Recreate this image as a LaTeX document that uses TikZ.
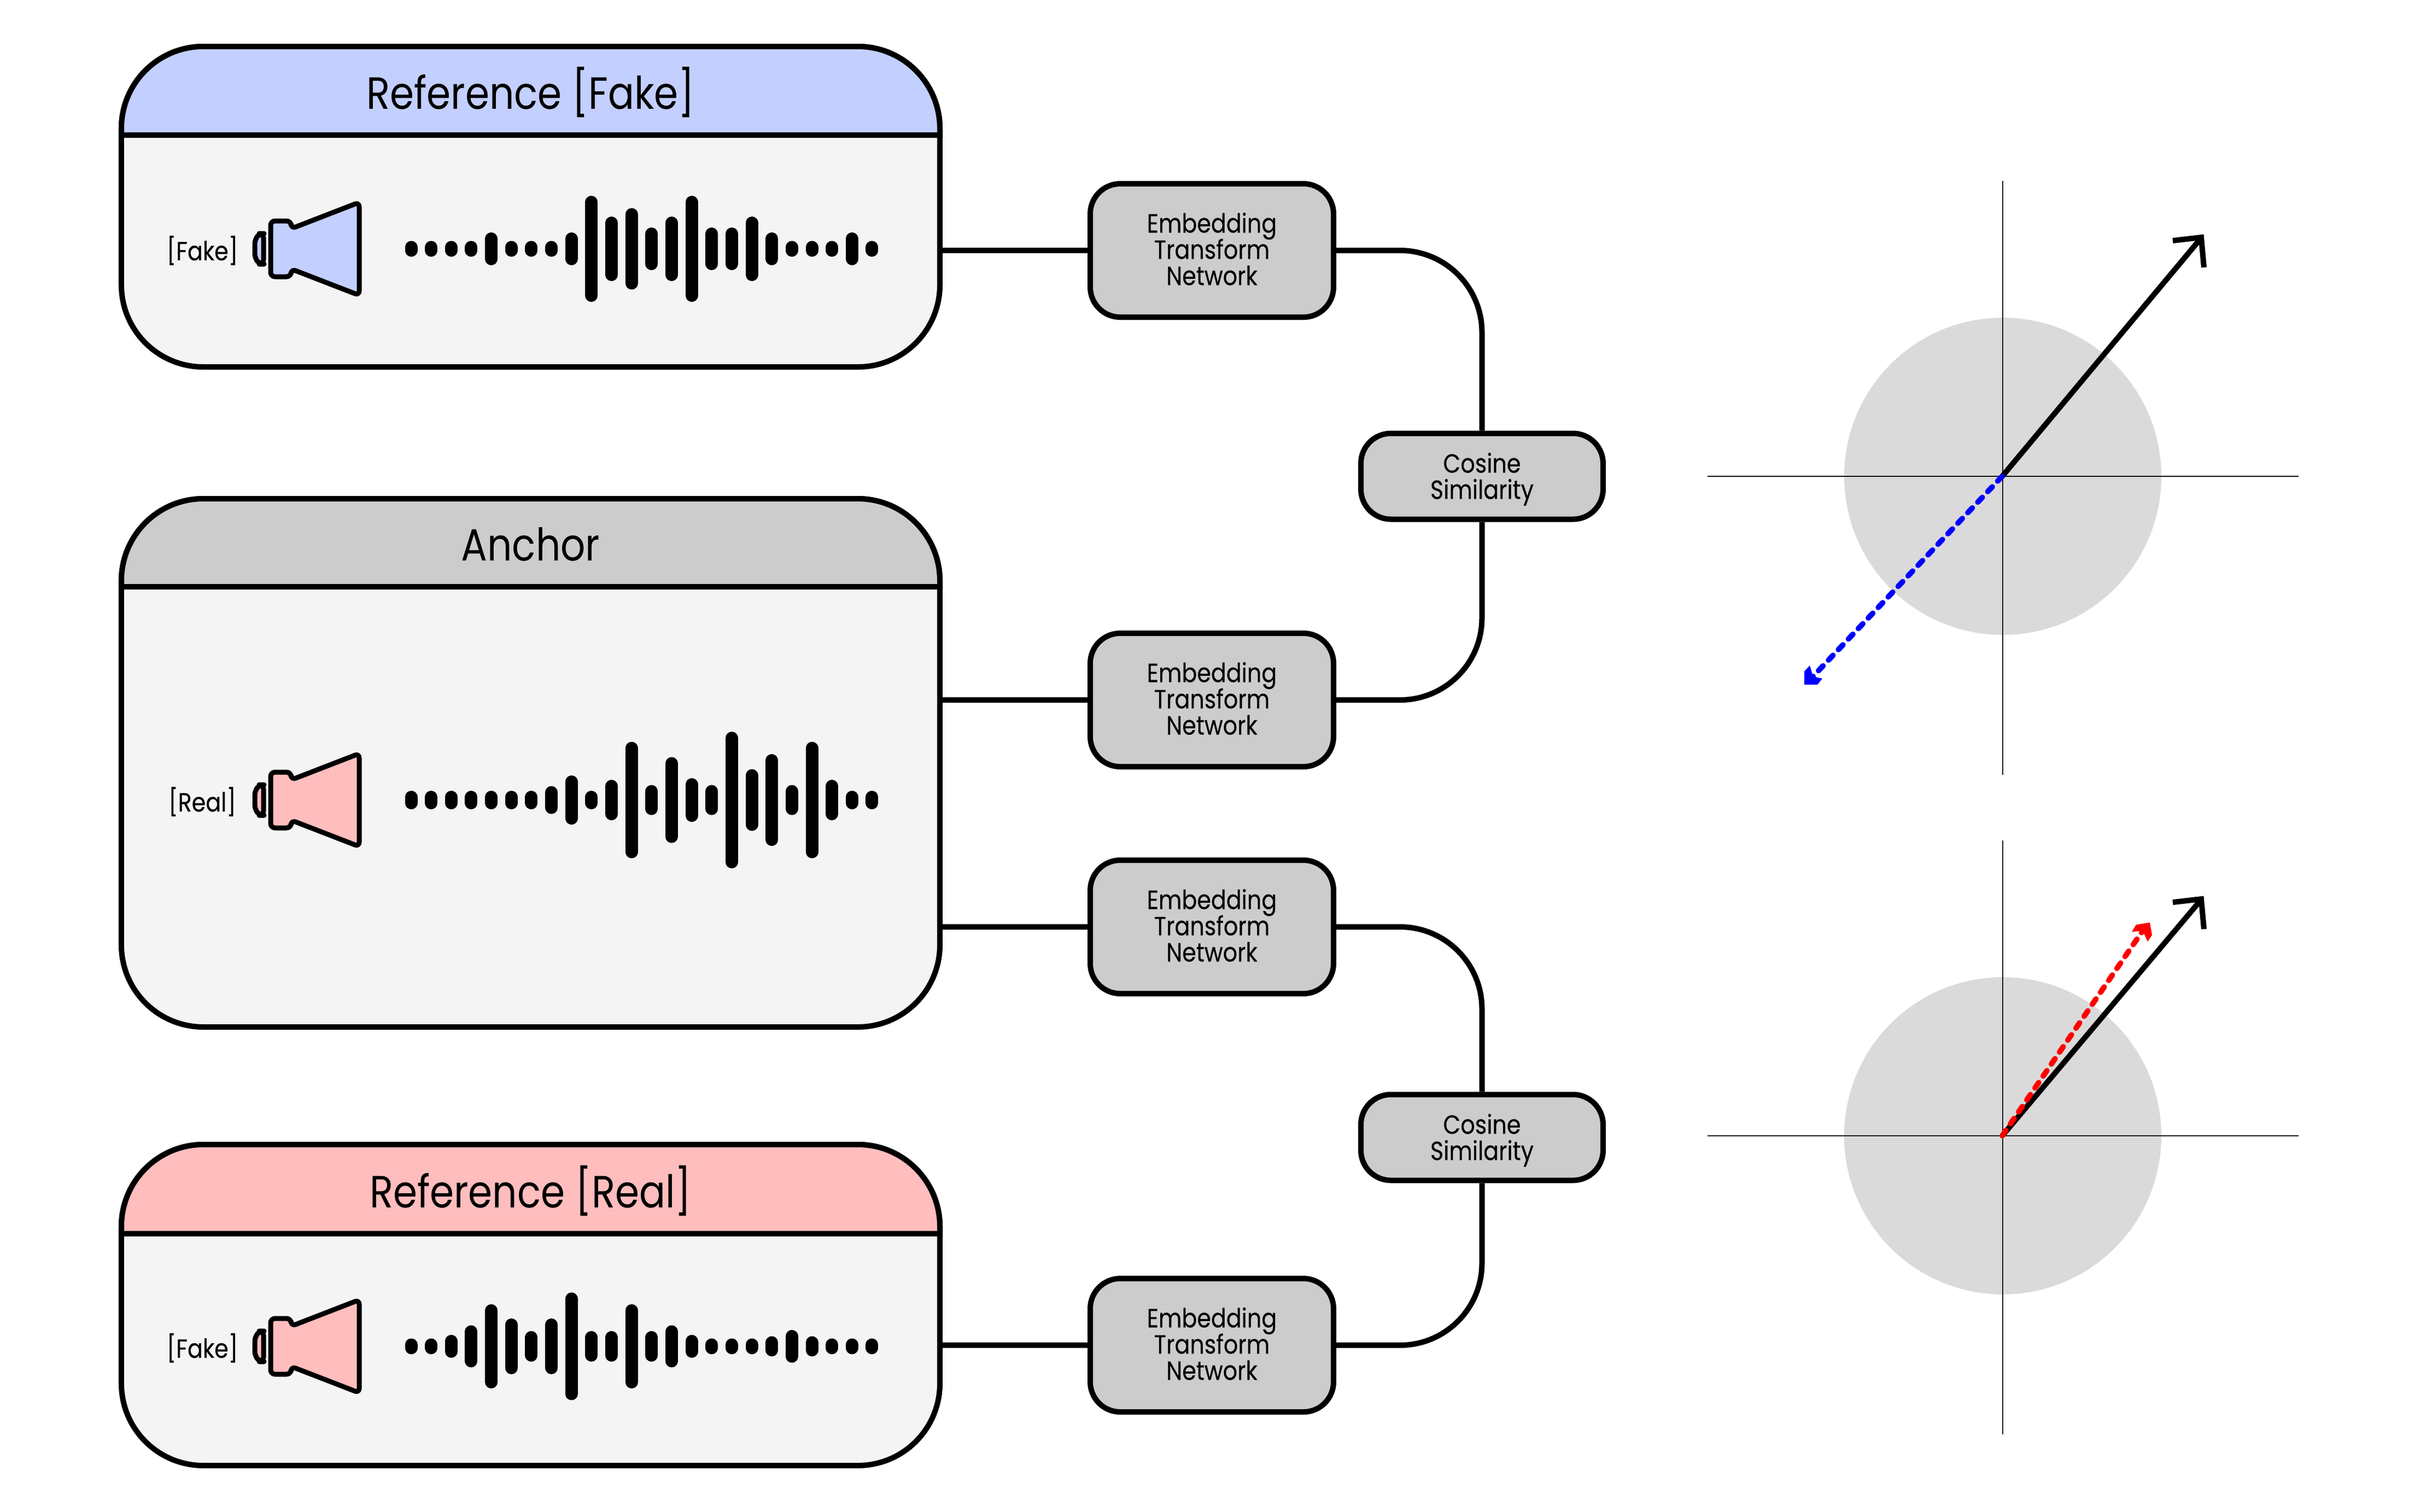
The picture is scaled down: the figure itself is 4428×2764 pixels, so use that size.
\documentclass[tikz,border=0pt]{standalone}
\usepackage{fontspec}
\setmainfont[FakeStretch=0.86]{Poppins}
\newfontfamily\boxfont[FakeStretch=0.86,FakeBold=0.25]{Poppins}
\usetikzlibrary{positioning}

\definecolor{headblue}{HTML}{C3CFFE}
\definecolor{headgray}{HTML}{CCCCCC}
\definecolor{headred}{HTML}{FFBDBD}
\definecolor{bodygray}{HTML}{F4F4F4}
\definecolor{discgray}{HTML}{DADADA}

\tikzset{
  panelbody/.style={draw=black, line width=2pt, fill=bodygray, rounded corners=30pt, minimum width=299.4pt, inner sep=0pt},
  panelhead/.style={draw=black, line width=2pt},
  paneltitle/.style={font=\fontsize{16.5}{18}\selectfont},
  sidelabel/.style={font=\boxfont\fontsize{9.6}{10}\selectfont},
  netbox/.style={draw=black, line width=2pt, fill=headgray, rounded corners=11pt, inner sep=0pt, align=center, font=\boxfont\fontsize{9.6}{9.6}\selectfont\lineskiplimit-10pt\relax},
  embedbox/.style={netbox, minimum width=89pt, minimum height=48.8pt},
  cosbox/.style={netbox, minimum width=88.6pt, minimum height=31.4pt},
  wire/.style={draw=black, line width=2pt},
  wirecurve/.style={wire, rounded corners=30pt},
  horn/.style={draw=black, line width=1.8pt, rounded corners=1.6pt, line join=round},
  wavebar/.style={draw=black, line width=4.6pt, line cap=round},
  axisline/.style={draw=black, line width=0.5pt},
  vecblack/.style={draw=black, line width=2pt, line join=miter},
  vecdash/.style={line width=2pt, line cap=round, dash pattern=on 2.4pt off 2.9pt}
}

\newcommand{\panelbox}[6]{
\node[panelbody, minimum height={(#4-#2)*0.2pt}] (#1) at (970.5,{(#2+#4)/2}) {};
\draw[panelhead, fill=#5] (222,#3) -- (222,{#2+150}) arc[start angle=180, end angle=270, radius=150] -- (1569,#2) arc[start angle=270, end angle=360, radius=150] -- (1719,#3) -- cycle;
\node[paneltitle] (#1Title) at (970.5,{(#2+#3)/2+3}) {#6};
}

\newcommand{\hornicon}[2]{
\begin{scope}[shift={(0,#1)}]
\draw[horn, fill=#2] (495,-51) -- (532,-51) -- (533,-37) -- (657,-85) -- (657,85) -- (533,37) -- (532,51) -- (495,51) -- cycle;
\draw[horn, fill=#2] (482,-28) -- (475,-28) -- (466,-17) -- (466,17) -- (475,28) -- (482,28) -- cycle;
\end{scope}
}

\newcommand{\wavebars}[2]{
\foreach \barlen [count=\k] in {#2} {
\draw[wavebar] ({752+36.65*(\k-1)},{#1-\barlen/2+11.5}) -- ({752+36.65*(\k-1)},{#1+\barlen/2-11.5});
}
}

\newcommand{\simplot}[3]{
\fill[discgray] (3663,#2) circle[radius=290];
\draw[axisline] (3123,#2) -- (4204,#2);
\draw[axisline] (3663,{#2-540}) -- (3663,{#2+546});
\coordinate (#1Origin) at (3662,#2);
\coordinate (#1Tip) at (4026,{#2-436+#3});
\draw[vecblack] (#1Origin) -- (#1Tip);
\draw[vecblack] (3974,{#2-431+#3}) -- (4026,{#2-437+#3}) -- (4031,{#2-382+#3});
}

\begin{document}
\begin{tikzpicture}[x=0.2pt, y=-0.2pt]
\useasboundingbox (0,0) rectangle (4428,2764);

\panelbox{fakePanel}{85}{247}{671}{headblue}{Reference [Fake]}
\panelbox{anchorPanel}{912}{1073}{1878}{headgray}{Anchor}
\panelbox{realPanel}{2093}{2256}{2680}{headred}{Reference [Real]}

\node[sidelabel] (fakeLabel) at (370,458) {[Fake]};
\node[sidelabel] (anchorLabel) at (370,1466) {[Real]};
\node[sidelabel] (realLabel) at (370,2465) {[Fake]};

\hornicon{455}{headblue}
\hornicon{1463}{headred}
\hornicon{2462}{headred}

\wavebars{455}{29,29,29,29,60,29,29,29,60,194,118,149,78,118,194,78,78,118,60,29,29,29,60,29}
\wavebars{1463}{34,34,34,34,34,34,34,51,90,34,74,213,55,157,80,55,250,113,168,55,213,74,34,34}
\wavebars{2462}{29,29,42,77,154,102,56,102,197,56,56,154,56,77,42,29,29,29,37,60,37,29,29,29}

\node[embedbox] (embedFake) at (2216.5,458) {Embedding\\Transform\\Network\rule[-1.2pt]{0pt}{0pt}};
\node[embedbox] (embedAnchorTop) at (2216.5,1280) {Embedding\\Transform\\Network\rule[-1.2pt]{0pt}{0pt}};
\node[embedbox] (embedAnchorLow) at (2216.5,1695) {Embedding\\Transform\\Network\rule[-1.2pt]{0pt}{0pt}};
\node[embedbox] (embedReal) at (2216.5,2460) {Embedding\\Transform\\Network\rule[-1.2pt]{0pt}{0pt}};

\node[cosbox] (cosTop) at (2710.5,871) {\rule{0pt}{9.4pt}Cosine\\Similarity};
\node[cosbox] (cosLow) at (2710.5,2080) {\rule{0pt}{9.4pt}Cosine\\Similarity};

\draw[wire] (fakePanel.east |- embedFake.west) -- (embedFake.west);
\draw[wire] (anchorPanel.east |- embedAnchorTop.west) -- (embedAnchorTop.west);
\draw[wire] (anchorPanel.east |- embedAnchorLow.west) -- (embedAnchorLow.west);
\draw[wire] (realPanel.east |- embedReal.west) -- (embedReal.west);

\draw[wirecurve] (embedFake.east) -| (cosTop.north);
\draw[wirecurve] (embedAnchorTop.east) -| (cosTop.south);
\draw[wirecurve] (embedAnchorLow.east) -| (cosLow.north);
\draw[wirecurve] (embedReal.east) -| (cosLow.south);

\simplot{simTop}{871}{0}
\simplot{simLow}{2077}{4}

\coordinate (blueTip) at (3316,1237);
\draw[vecdash, draw=blue] (simTopOrigin) -- (blueTip);
\fill[blue] (3300,1252) -- (3300,1228) -- (3310,1217) -- (3316,1237) -- (3333,1241) -- (3324,1252) -- cycle;

\coordinate (redTip) at (3919,1702);
\draw[vecdash, draw=red] (simLowOrigin) -- (redTip);
\fill[red] (3932,1687) -- (3907,1691) -- (3899,1704) -- (3919,1702) -- (3928,1722) -- (3936,1710) -- cycle;

\end{tikzpicture}
\end{document}
